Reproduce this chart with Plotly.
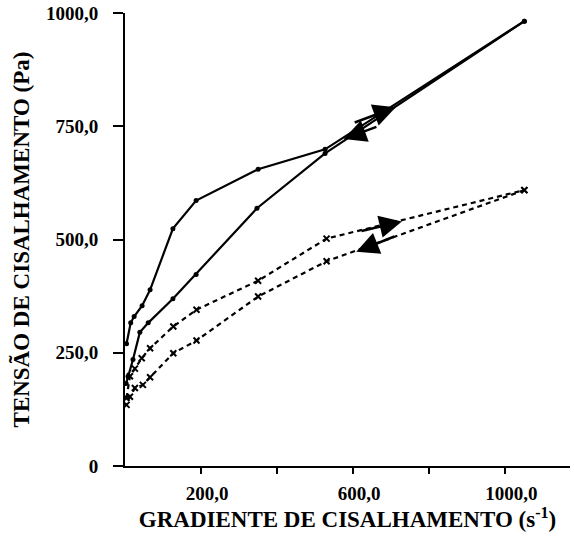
import plotly.graph_objects as go

# Solid curves (ascending and descending)
solid_up_x = [4, 15, 24, 45, 66, 126, 187, 350, 526, 1050]
solid_up_y = [270, 316, 330, 354, 389, 524, 586, 655, 699, 982]
solid_down_x = [1050, 526, 347, 187, 126, 61, 39, 21, 8, 3]
solid_down_y = [982, 690, 569, 423, 369, 316, 295, 235, 198, 182]

# Dashed curves (ascending and descending)
dash_up_x = [4, 13, 26, 44, 66, 127, 188, 350, 530, 1050]
dash_up_y = [150, 198, 215, 238, 260, 308, 345, 409, 502, 609]
dash_down_x = [1050, 530, 350, 188, 127, 66, 47, 26, 13, 4]
dash_down_y = [609, 452, 374, 277, 249, 196, 179, 172, 153, 135]

x_tickvals = [200, 600, 1000]
x_ticktext = ["200,0", "600,0", "1000,0"]
x_minor_tickvals = [400, 800]
y_tickvals = [0, 250, 500, 750, 1000]
y_ticktext = ["0", "250,0", "500,0", "750,0", "1000,0"]

# arrows: (tail_x, tail_y, tip_x, tip_y)
arrows = [
    (600, 757, 712, 792),
    (665, 750, 575, 722),
    (618, 518, 728, 540),
    (712, 508, 608, 473),
]

FONT = "Liberation Serif"

fig = go.Figure()
line_w = 2.2
fig.add_trace(go.Scatter(x=solid_up_x, y=solid_up_y, mode="lines+markers",
                         line=dict(color="black", width=line_w),
                         marker=dict(symbol="circle", size=5, color="black")))
fig.add_trace(go.Scatter(x=solid_down_x, y=solid_down_y, mode="lines+markers",
                         line=dict(color="black", width=line_w),
                         marker=dict(symbol="circle", size=5, color="black")))
fig.add_trace(go.Scatter(x=dash_up_x, y=dash_up_y, mode="lines+markers",
                         line=dict(color="black", width=line_w, dash="5px,4px"),
                         marker=dict(symbol="x-thin", size=6, color="black",
                                     line=dict(width=2, color="black"))))
fig.add_trace(go.Scatter(x=dash_down_x, y=dash_down_y, mode="lines+markers",
                         line=dict(color="black", width=line_w, dash="5px,4px"),
                         marker=dict(symbol="x-thin", size=6, color="black",
                                     line=dict(width=2, color="black"))))

for tx, ty, hx, hy in arrows:
    fig.add_annotation(x=hx, y=hy, ax=tx, ay=ty, xref="x", yref="y",
                       axref="x", ayref="y", text="", showarrow=True,
                       arrowhead=2, arrowsize=1.8, arrowwidth=2.5,
                       arrowcolor="black")

fig.update_layout(
    width=574, height=539,
    margin=dict(l=125, r=4, t=13, b=73),
    paper_bgcolor="white", plot_bgcolor="white",
    showlegend=False,
    font=dict(family=FONT, color="black"),
    xaxis=dict(range=[0, 1170], showgrid=False, zeroline=False,
               showline=True, linecolor="black", linewidth=2,
               ticks="outside", ticklen=6, tickwidth=2, tickcolor="black",
               tickvals=x_tickvals, ticktext=x_ticktext,
               minor=dict(tickmode="array", tickvals=x_minor_tickvals,
                          ticks="outside", ticklen=6, tickwidth=2,
                          tickcolor="black", showgrid=False),
               ticklabelshift=6, ticklabelstandoff=3,
               tickfont=dict(family=FONT, size=19, weight="bold"),
               title=dict(text="GRADIENTE DE CISALHAMENTO (s<sup>-1</sup>)",
                          font=dict(family=FONT, size=23, weight="bold"),
                          standoff=5)),
    yaxis=dict(range=[0, 1000], showgrid=False, zeroline=False,
               showline=True, linecolor="black", linewidth=2,
               ticks="outside", ticklen=10, tickwidth=2, tickcolor="black",
               tickvals=y_tickvals, ticktext=y_ticktext,
               ticklabelstandoff=11,
               tickfont=dict(family=FONT, size=19, weight="bold"),
               title=dict(text="TENSÃO DE CISALHAMENTO (Pa)",
                          font=dict(family=FONT, size=23, weight="bold"),
                          standoff=10)),
)

fig.write_html("out.html")
